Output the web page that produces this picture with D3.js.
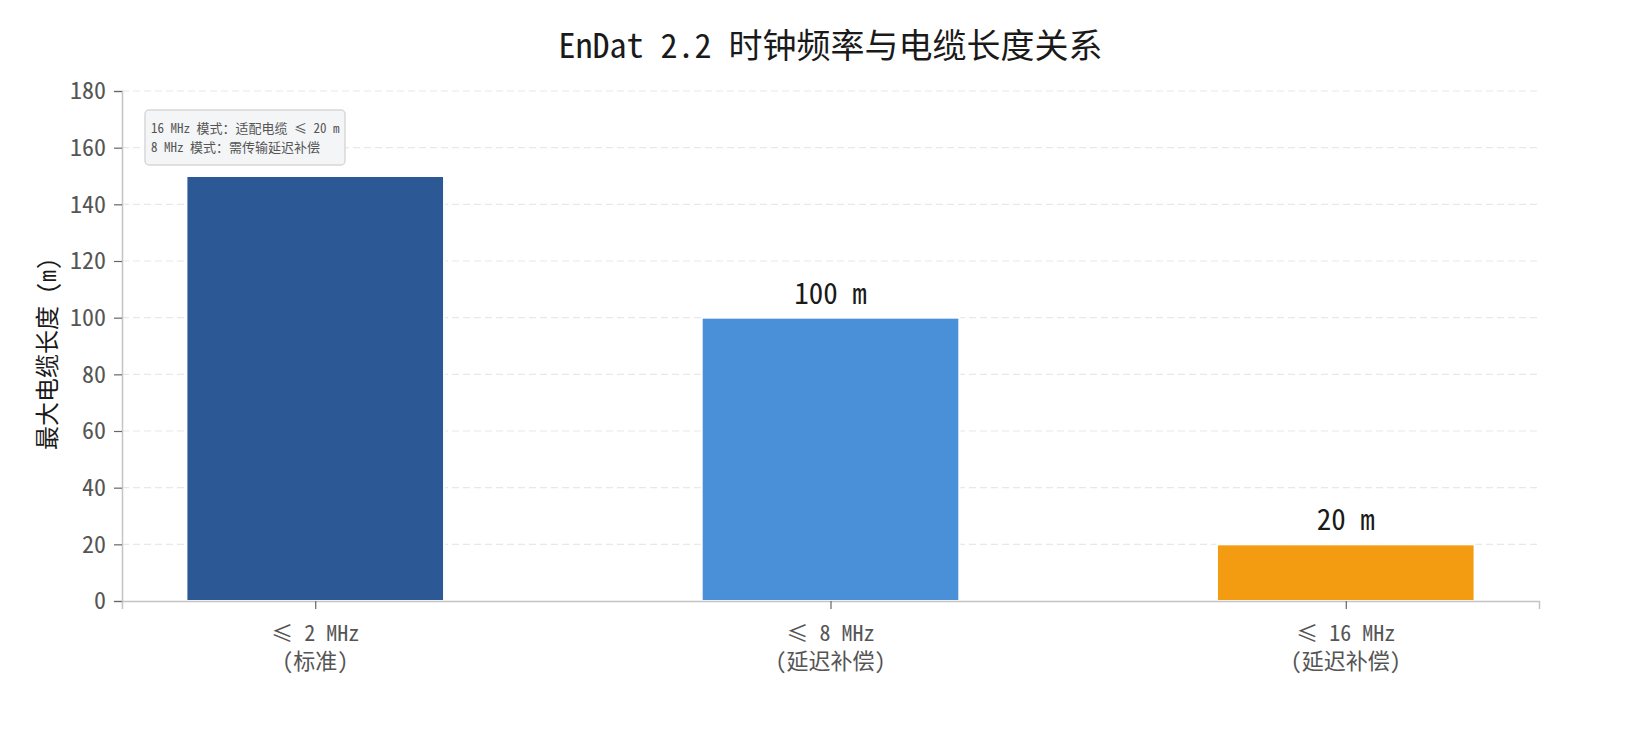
<!DOCTYPE html>
<html><head><meta charset="utf-8">
<script src="https://cdn.jsdelivr.net/npm/d3@7"></script>
<style>
body{margin:0;background:#fff;}
svg text{font-family:"Noto Sans Mono CJK SC","DejaVu Sans Mono","Noto Sans CJK SC",monospace;}
</style></head><body>
<svg id="c" width="1632" height="732"></svg>
<script>
const categories = ["≤ 2 MHz\n(标准)", "≤ 8 MHz\n(延迟补偿)", "≤ 16 MHz\n(延迟补偿)"];
const cableLength = [150, 100, 20];
const valueLabels = ["", "100 m", "20 m"];
const barColors = ["#2c5896", "#4a90d9", "#f39c12"];
const yTicks = [0, 20, 40, 60, 80, 100, 120, 140, 160, 180];
const title = "EnDat 2.2 时钟频率与电缆长度关系";
const yLabel = "最大电缆长度 (m)";
const noteLines = ["16 MHz 模式：适配电缆 ≤ 20 m", "8 MHz 模式：需传输延迟补偿"];

const svg = d3.select("#c");
const L = 122, R = 1539, T = 91, B = 601;
const x = d3.scaleLinear().domain([-0.375, 2.375]).range([L, R]);
const y = d3.scaleLinear().domain([0, 180]).range([B, T]);

// grid
svg.append("g").selectAll("line").data(yTicks.slice(1)).join("line")
  .attr("x1", L).attr("x2", R).attr("y1", d => y(d)).attr("y2", d => y(d))
  .attr("stroke", "#e8e8e8").attr("stroke-width", 1.2).attr("stroke-dasharray", "7,4");

// bars
const bw = 0.5;
svg.append("g").selectAll("rect").data(cableLength).join("rect")
  .attr("x", (d, i) => x(i - bw / 2)).attr("width", x(bw) - x(0))
  .attr("y", d => y(d)).attr("height", d => y(0) - y(d))
  .attr("fill", (d, i) => barColors[i]).attr("stroke", "#fff").attr("stroke-width", 2);

// value labels
const lab = cableLength.map((v, i) => ({v, i, t: valueLabels[i]})).filter(o => o.t);
svg.append("g").selectAll("text").data(lab).join("text")
  .attr("x", o => x(o.i)).attr("y", o => y(o.v) - 14)
  .attr("text-anchor", "middle").attr("font-size", 29).attr("fill", "#1a1a1a")
  .text(o => o.t);

// y axis
const ya = svg.append("g").attr("transform", `translate(${L},0)`)
  .call(d3.axisLeft(y).tickValues(yTicks).tickSize(8).tickPadding(8));
ya.select(".domain").attr("stroke", "#c4c4c4").attr("stroke-width", 1.5);
ya.selectAll(".tick line").attr("stroke", "#666").attr("stroke-width", 1.2);
ya.selectAll(".tick text").attr("font-size", 24).attr("fill", "#555");

// x axis
const xa = svg.append("g").attr("transform", `translate(0,${B})`)
  .call(d3.axisBottom(x).tickValues([0, 1, 2]).tickSize(8).tickFormat(""));
xa.select(".domain").attr("stroke", "#c4c4c4").attr("stroke-width", 1.5);
xa.selectAll(".tick line").attr("stroke", "#666").attr("stroke-width", 1.2);
categories.forEach((c, i) => {
  c.split("\n").forEach((s, k) => svg.append("text")
    .attr("x", x(i)).attr("y", B + 40 + k * 28)
    .attr("text-anchor", "middle").attr("font-size", 22).attr("fill", "#555")
    .text(s));
});

// title
svg.append("text").attr("x", (L + R) / 2).attr("y", 58).attr("text-anchor", "middle")
  .attr("font-size", 34).attr("fill", "#1a1a1a").text(title);

// y label
svg.append("text").attr("transform", `translate(56,${(T + B) / 2 + 8}) rotate(-90)`)
  .attr("text-anchor", "middle").attr("font-size", 24).attr("fill", "#1a1a1a").text(yLabel);

// note box
const ng = svg.append("g");
ng.append("rect").attr("x", 145).attr("y", 110).attr("width", 200).attr("height", 55)
  .attr("rx", 4).attr("fill", "#f4f5f7").attr("stroke", "#d8d8d8").attr("stroke-width", 1.5);
noteLines.forEach((s, k) => ng.append("text").attr("x", 151).attr("y", 133 + k * 19)
  .attr("font-size", 13).attr("fill", "#555").text(s));
</script></body></html>
